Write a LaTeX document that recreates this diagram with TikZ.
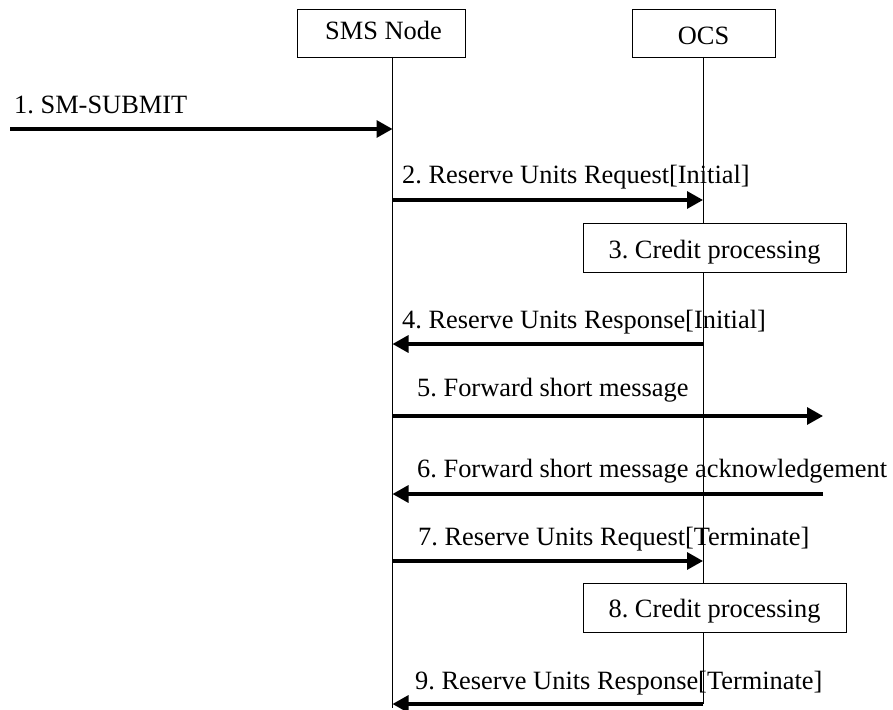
\documentclass[tikz,border=0pt]{standalone}
\usepackage{fontspec}
\setmainfont{Liberation Serif}
\usetikzlibrary{arrows.meta}
\frenchspacing

\begin{document}
\begin{tikzpicture}[x=1pt, y=-1pt, font=\fontsize{26.4}{30}\selectfont,
        entity/.style={draw, line width=0.9pt, minimum height=48pt, inner sep=0pt},
        procbox/.style={draw, line width=0.9pt, fill=white, minimum width=263pt,
            minimum height=49pt, text height=20pt, text depth=0pt, inner sep=0pt},
        msg/.style={line width=3.2pt, -{Triangle[length=16pt,width=17pt]}},
        lbl/.style={anchor=base west, inner sep=0pt}]
        \useasboundingbox (0,0) rectangle (893,709);

        % entities
        \node[entity, name=sms, minimum width=168pt, text height=20pt, text depth=6pt] at (381,33) {\hspace{5pt}SMS Node};
        \node[entity, name=ocs, minimum width=143pt, text height=24pt, text depth=0pt] at (703.5,33) {OCS\hspace{12pt}};

        % lifelines
        \coordinate (smsTop) at (392.5,57);
        \coordinate (smsEnd) at (392.5,708);
        \coordinate (ocsTop) at (703,57);
        \coordinate (ocsEnd) at (703,704);

        % message labels
        \node[lbl, name=l1] at (14,113) {1. SM-SUBMIT};
        \node[lbl, name=l2] at (402,183) {2. Reserve Units Request[Initial]};
        \node[lbl, name=l4] at (402,328) {4. Reserve Units Response[Initial]};
        \node[lbl, name=l5] at (417,396) {5. Forward short message};
        \node[lbl, name=l6] at (417,477) {6. Forward short message acknowledgement};
        \node[lbl, name=l7] at (418,545) {7. Reserve Units Request[Terminate]};
        \node[lbl, name=l9] at (415,689) {9. Reserve Units Response[Terminate]};

        \draw[line width=1pt] (smsTop) -- (smsEnd);
        \draw[line width=1pt] (ocsTop) -- (ocsEnd);

        % processing on OCS
        \node[procbox, name=cp3] at (714.5,248) {3. Credit processing};
        \node[procbox, name=cp8] at (714.5,607.5) {8. Credit processing};

        % message end points
        \coordinate (ue) at (10,129);
        \coordinate (s1) at (392.5,129);
        \coordinate (s2) at (392.5,200);  \coordinate (o2) at (703,200);
        \coordinate (s4) at (392.5,344);  \coordinate (o4) at (703,344);
        \coordinate (s5) at (392.5,416);  \coordinate (r5) at (823,416);
        \coordinate (s6) at (392.5,494);  \coordinate (r6) at (823,494);
        \coordinate (s7) at (392.5,561);  \coordinate (o7) at (703,561);
        \coordinate (s9) at (392.5,704);  \coordinate (o9) at (703,704);

        \draw[msg] (ue) -- (s1);
        \draw[msg] (s2) -- (o2);
        \draw[msg] (o4) -- (s4);
        \draw[msg] (s5) -- (r5);
        \draw[msg] (r6) -- (s6);
        \draw[msg] (s7) -- (o7);
        \draw[msg] (o9) -- (s9);
    \end{tikzpicture}
\end{document}
